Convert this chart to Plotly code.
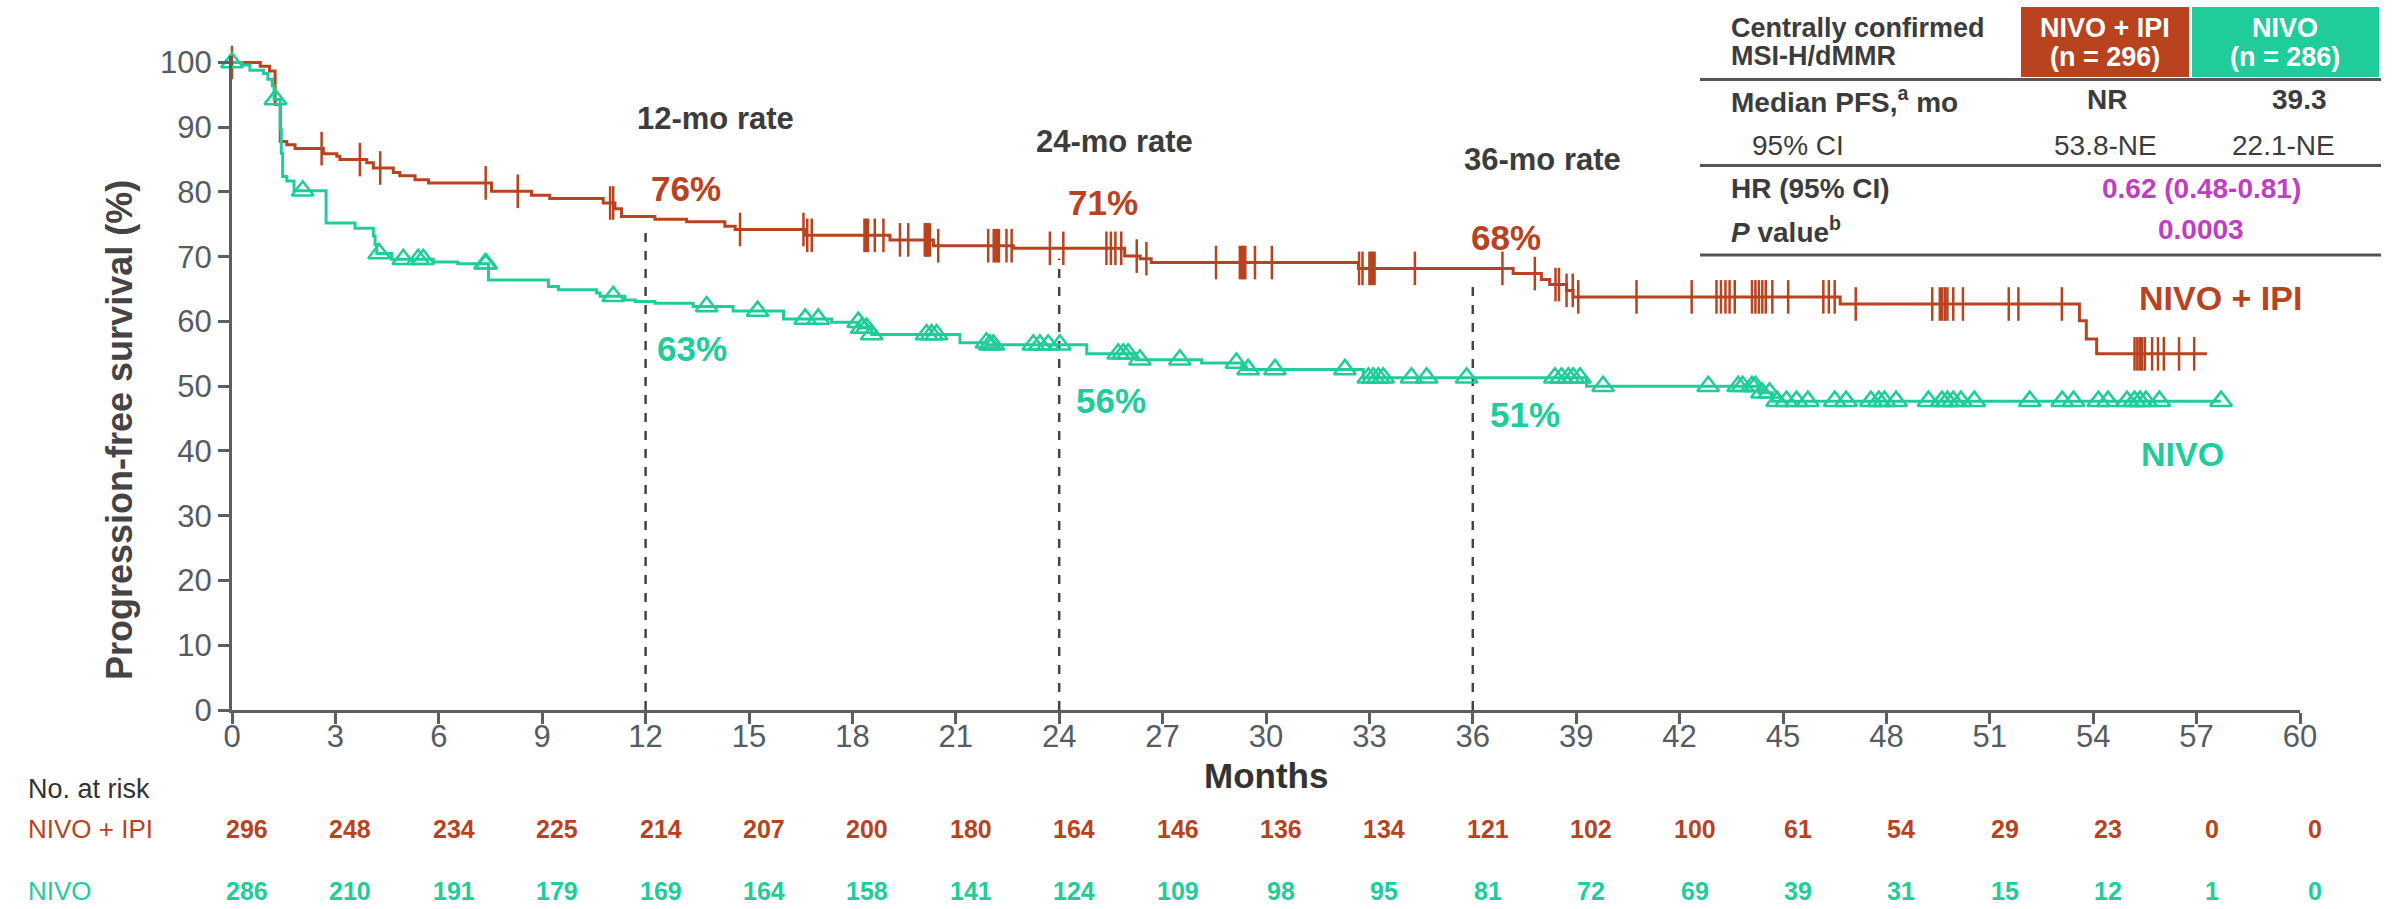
import numpy as np
import plotly.graph_objects as go

# ---------------- data ----------------
months_ticks = list(range(0, 61, 3))
surv_ticks = list(range(0, 101, 10))

# NIVO + IPI Kaplan-Meier step points (time in months, PFS %)
ipi_t = [0, 0.82, 1.09, 1.25, 1.40, 1.59, 1.83, 2.65, 3.04, 3.13, 3.91, 4.10, 4.68, 4.87,
         5.31, 5.70, 7.53, 8.69, 9.22, 10.77, 11.11, 11.30, 12.27, 13.19, 14.30, 14.60,
         16.62, 19.09, 20.35, 22.67, 25.90, 26.35, 26.67, 32.68, 37.17, 37.99, 38.23,
         38.72, 38.91, 46.66, 53.60, 53.80, 54.10]
ipi_s = [100, 99.4, 98.7, 93.5, 87.8, 87.3, 86.7, 85.9, 85.5, 85.0, 84.5, 83.7, 83.0, 82.5,
         81.9, 81.4, 80.1, 79.5, 79.0, 78.3, 77.4, 76.2, 75.8, 75.4, 74.7, 74.2,
         73.3, 72.6, 71.7, 71.3, 70.1, 69.7, 69.1, 68.2, 67.4, 66.5, 65.7,
         64.8, 63.8, 62.7, 60.1, 57.3, 55.0]
ipi_end = 57.3
ipi_cens = [0, 2.60, 3.71, 4.30, 7.36, 8.29, 10.97, 11.06, 14.74, 16.58, 16.69, 16.82,
            18.35, 18.40, 18.45, 18.65, 18.90, 19.38, 19.62, 20.10, 20.15, 20.20, 20.25,
            20.49, 21.94, 22.10, 22.15, 22.20, 22.25, 22.47, 22.62, 23.73, 24.12, 25.37,
            25.50, 25.63, 25.80, 26.25, 26.53, 28.55, 29.24, 29.30, 29.35, 29.40, 29.68,
            30.17, 32.70, 32.80, 33.00, 33.05, 33.10, 33.15, 34.32, 36.86, 37.80, 38.40,
            38.50, 38.72, 38.90, 39.06, 40.75, 42.35, 43.07, 43.20, 43.33, 43.45, 43.60,
            44.10, 44.20, 44.30, 44.40, 44.50, 44.69, 45.15, 46.17, 46.33, 46.50, 47.11,
            49.33, 49.55, 49.62, 49.70, 49.77, 49.94, 50.22, 51.55, 51.83, 53.09, 55.20,
            55.28, 55.35, 55.42, 55.50, 55.71, 55.88, 56.05, 56.49, 56.93]

# NIVO Kaplan-Meier step points
nivo_t = [0, 0.29, 0.52, 0.91, 1.04, 1.17, 1.22, 1.40, 1.43, 1.47, 1.59, 1.80, 2.73, 3.57,
          4.10, 4.15, 4.20, 4.63, 5.84, 6.55, 7.44, 9.18, 9.47, 10.58, 10.68, 11.40, 11.70,
          12.27, 13.38, 14.54, 16.00, 17.40, 18.20, 18.56, 21.12, 21.90, 24.80, 26.24,
          28.13, 29.30, 32.82, 39.30, 44.30, 44.70]
nivo_s = [100, 99.6, 98.8, 98.3, 97.4, 96.4, 94.3, 89.6, 86.0, 82.4, 81.7, 80.2, 75.2, 74.4,
          73.2, 71.9, 70.5, 69.6, 69.2, 68.9, 66.4, 65.4, 64.9, 64.4, 63.9, 63.3, 63.1,
          62.8, 62.3, 61.6, 60.4, 59.9, 59.0, 58.0, 56.7, 56.4, 55.0, 54.1,
          53.6, 52.6, 51.3, 50.0, 49.0, 47.7]
nivo_end = 57.7
nivo_cens = [0, 1.26, 2.05, 4.27, 4.97, 5.40, 5.55, 7.34, 7.38, 11.06, 13.77, 15.25, 16.63,
             17.01, 18.17, 18.27, 18.41, 18.56, 20.15, 20.30, 20.44, 21.89, 21.99, 22.09,
             23.25, 23.44, 23.68, 24.02, 25.71, 25.86, 26.00, 26.34, 27.50, 29.14, 29.48,
             30.26, 32.29, 32.97, 33.11, 33.26, 33.40, 34.22, 34.66, 35.82, 38.38, 38.57,
             38.77, 38.91, 39.11, 39.78, 42.83, 43.70, 43.83, 44.10, 44.20, 44.39, 44.61,
             44.83, 45.10, 45.39, 45.72, 46.50, 46.83, 47.55, 47.78, 47.94, 48.28, 49.22,
             49.61, 49.77, 49.94, 50.16, 50.55, 52.16, 53.10, 53.43, 54.15, 54.43, 54.98,
             55.20, 55.36, 55.53, 55.92, 57.71]

rate_months = [12, 24, 36]
rate_labels = ["12-mo rate", "24-mo rate", "36-mo rate"]
rate_ipi = [76, 71, 68]
rate_nivo = [63, 56, 51]

risk_months = list(range(0, 61, 3))
ipi_risk = [296, 248, 234, 225, 214, 207, 200, 180, 164, 146, 136, 134, 121, 102, 100, 61, 54, 29, 23, 0, 0]
nivo_risk = [286, 210, 191, 179, 169, 164, 158, 141, 124, 109, 98, 95, 81, 72, 69, 39, 31, 15, 12, 1, 0]

# ---------------- styling ----------------
RED = "#B9431F"
GREEN = "#20CD9A"
MAG = "#C23CC4"
AXC = "#5a5f66"
TXT = "#3c3c3c"
FONT = "Liberation Sans, Arial, sans-serif"

W, H = 2392, 909
L, R, T, B = 232, 92, 56, 199
PW, PH = W - L - R, H - T - B
BOTTOM_PX = H - B


def pxx(px):
    return (px - L) / PW


def pxy(py):
    return (BOTTOM_PX - py) / PH


def step_val(times, vals, t):
    idx = np.searchsorted(np.asarray(times), np.asarray(t, dtype=float), side="right") - 1
    return np.asarray(vals)[idx]


fig = go.Figure()

# curves
fig.add_trace(go.Scatter(x=ipi_t + [ipi_end], y=ipi_s + [ipi_s[-1]], mode="lines",
                         line=dict(color=RED, width=3, shape="hv"), cliponaxis=False,
                         hoverinfo="skip", showlegend=False))
fig.add_trace(go.Scatter(x=nivo_t + [nivo_end], y=nivo_s + [nivo_s[-1]], mode="lines",
                         line=dict(color=GREEN, width=3, shape="hv"), cliponaxis=False,
                         hoverinfo="skip", showlegend=False))
# censor marks
fig.add_trace(go.Scatter(x=ipi_cens, y=step_val(ipi_t, ipi_s, ipi_cens), mode="markers",
                         marker=dict(symbol="line-ns", size=24, color=RED,
                                     line=dict(color=RED, width=2.5)),
                         cliponaxis=False, hoverinfo="skip", showlegend=False))
fig.add_trace(go.Scatter(x=nivo_cens, y=step_val(nivo_t, nivo_s, nivo_cens), mode="markers",
                         marker=dict(symbol="triangle-up-open", size=19, color=GREEN,
                                     line=dict(color=GREEN, width=2.5)),
                         cliponaxis=False, hoverinfo="skip", showlegend=False))

shapes = []
annotations = []


def ann(text, x, y, xref="paper", yref="paper", xa="center", ya="middle", size=26, color=TXT,
        **kw):
    d = dict(x=x, y=y, xref=xref, yref=yref, xanchor=xa, yanchor=ya, text=text, showarrow=False,
             font=dict(family=FONT, size=size, color=color))
    d.update(kw)
    annotations.append(d)


# dashed milestone lines + labels
for m in rate_months:
    top = float(step_val(ipi_t, ipi_s, [m])[0]) - 1.6
    shapes.append(dict(type="line", xref="x", yref="y", x0=m, x1=m, y0=0, y1=top,
                       line=dict(color="#444444", width=2.5, dash="dash"), layer="below"))

rate_lab_pos = [(14.03, 91.3), (25.6, 87.8), (38.03, 85.0)]
ipi_lab_pos = [(13.16, 80.5), (25.28, 78.4), (36.97, 72.9)]
nivo_lab_pos = [(13.36, 55.8), (25.5, 47.8), (37.5, 45.7)]
for lab, (x, y) in zip(rate_labels, rate_lab_pos):
    ann(f"<b>{lab}</b>", x, y, "x", "y", size=31, color=TXT)
for v, (x, y) in zip(rate_ipi, ipi_lab_pos):
    ann(f"<b>{v}%</b>", x, y, "x", "y", size=35, color=RED)
for v, (x, y) in zip(rate_nivo, nivo_lab_pos):
    ann(f"<b>{v}%</b>", x, y, "x", "y", size=35, color=GREEN)

# curve labels
ann("<b>NIVO + IPI</b>", 57.7, 63.6, "x", "y", size=34, color=RED)
ann("<b>NIVO</b>", 56.6, 39.6, "x", "y", size=34, color=GREEN)

# axis titles
ann("<b>Progression-free survival (%)</b>", pxx(119), pxy(430), size=36, color="#444444",
    textangle=-90)
ann("<b>Months</b>", 30, pxy(775), "x", "paper", size=35, color="#333333")

# number at risk
ann("No. at risk", pxx(26), pxy(789), xa="left", size=27, color="#333333")
ann("NIVO + IPI", pxx(26), pxy(829), xa="left", size=26, color=RED)
ann("NIVO", pxx(26), pxy(891), xa="left", size=26, color=GREEN)
for m, a, b in zip(risk_months, ipi_risk, nivo_risk):
    ann(f"<b>{a}</b>", m, pxy(829), "x", "paper", size=25, color=RED, xshift=15)
    ann(f"<b>{b}</b>", m, pxy(891), "x", "paper", size=25, color=GREEN, xshift=15)

# summary table (top right)
shapes.append(dict(type="rect", xref="paper", yref="paper", x0=pxx(2021), x1=pxx(2189),
                   y0=pxy(77), y1=pxy(7), fillcolor=RED, line=dict(width=0)))
shapes.append(dict(type="rect", xref="paper", yref="paper", x0=pxx(2192), x1=pxx(2379),
                   y0=pxy(77), y1=pxy(7), fillcolor=GREEN, line=dict(width=0)))
for ly in (79.5, 165.5, 255):
    shapes.append(dict(type="line", xref="paper", yref="paper", x0=pxx(1700), x1=pxx(2381),
                       y0=pxy(ly), y1=pxy(ly), line=dict(color="#555555", width=3)))


def tab(text, x, y, anchor="center", color=TXT, size=28):
    ann(text, pxx(x), pxy(y), xa=anchor, size=size, color=color)


tab("<b>Centrally confirmed</b>", 1729, 28, "left", size=27)
tab("<b>MSI-H/dMMR</b>", 1729, 56, "left", size=27)
tab("<b>NIVO + IPI</b>", 2105, 28, color="white", size=27)
tab("<b>(n = 296)</b>", 2105, 57, color="white", size=27)
tab("<b>NIVO</b>", 2285, 28, color="white", size=27)
tab("<b>(n = 286)</b>", 2285, 57, color="white", size=27)
tab("<b>Median PFS,<sup>a</sup> mo</b>", 1729, 100, "left")
tab("<b>NR</b>", 2107, 100)
tab("<b>39.3</b>", 2299, 100)
tab("95% CI", 1750, 145, "left")
tab("53.8-NE", 2105, 145)
tab("22.1-NE", 2283, 145)
tab("<b>HR (95% CI)</b>", 1729, 188, "left")
tab("<b>0.62 (0.48-0.81)</b>", 2201, 188, color=MAG)
tab("<b><i>P</i> value<sup>b</sup></b>", 1729, 230, "left")
tab("<b>0.0003</b>", 2201, 230, color=MAG)

axis_common = dict(showgrid=False, zeroline=False, showline=True, linecolor=AXC, linewidth=3,
                   ticks="outside", ticklen=11, tickwidth=2.5, tickcolor=AXC,
                   tickfont=dict(family=FONT, size=31, color="#555b63"))

fig.update_layout(
    width=W, height=H,
    margin=dict(l=L, r=R, t=T, b=B, pad=0),
    paper_bgcolor="white", plot_bgcolor="white",
    showlegend=False,
    xaxis=dict(range=[0, 60], tickvals=months_ticks, ticklabelstandoff=-14, **axis_common),
    yaxis=dict(range=[0, 101], tickvals=surv_ticks, **axis_common),
    shapes=shapes, annotations=annotations,
    hovermode=False,
)

fig.write_html("out.html", config={"displayModeBar": False},
               post_script="document.body.style.margin='0';document.body.style.overflow='hidden';")
